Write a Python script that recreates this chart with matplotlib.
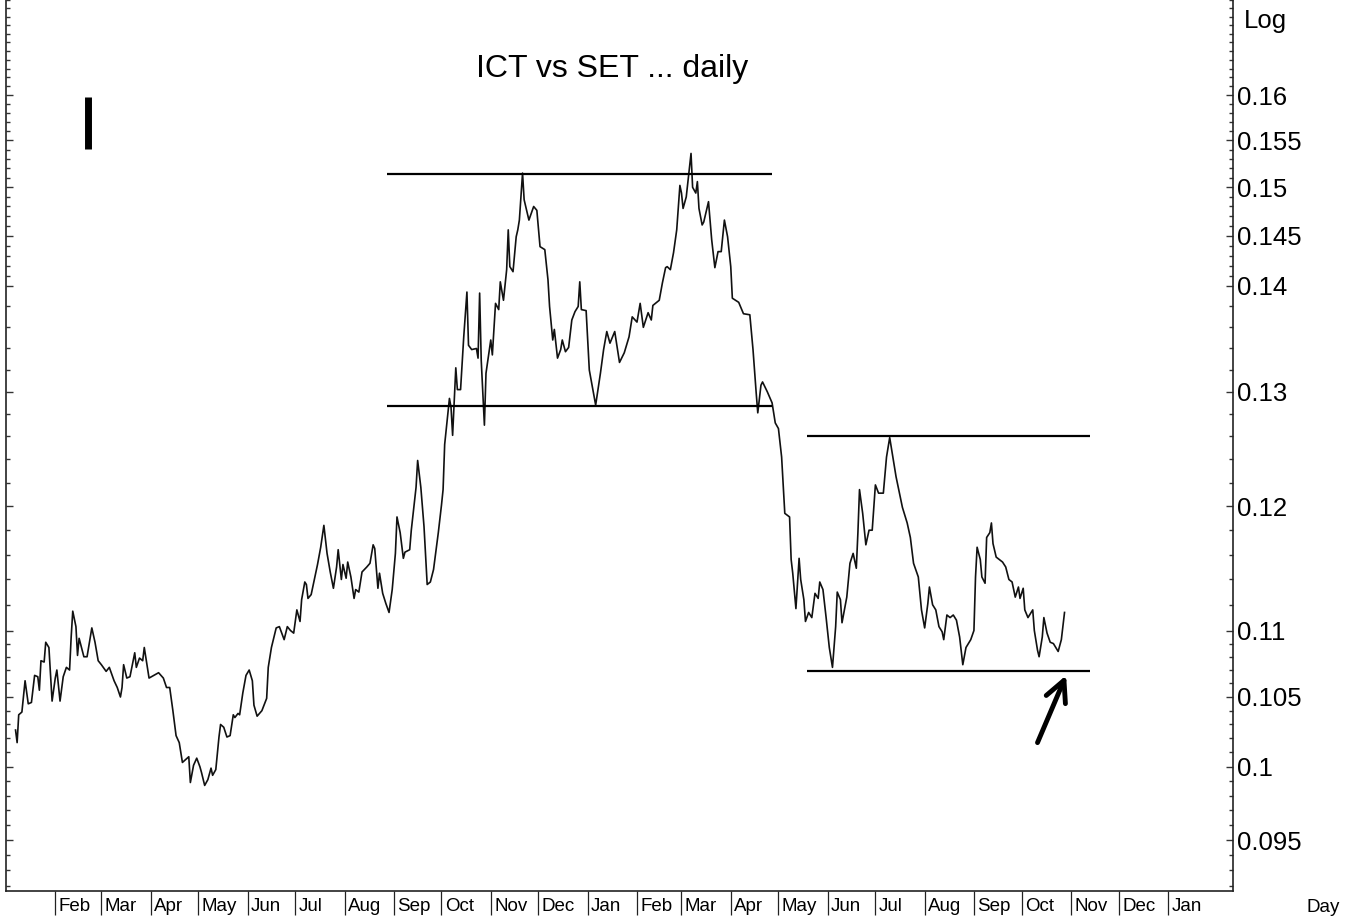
import matplotlib
matplotlib.use("Agg")
import matplotlib.pyplot as plt
import matplotlib.dates as mdates
from matplotlib.ticker import FixedLocator, FixedFormatter, NullFormatter
from matplotlib.transforms import ScaledTranslation
import numpy as np
import pandas as pd

# ---- data ----
title = "ICT vs SET ... daily"

dates = [
    "2012-01-07", "2012-01-08", "2012-01-09", "2012-01-11", "2012-01-13", "2012-01-15", "2012-01-17", "2012-01-19",
    "2012-01-21", "2012-01-22", "2012-01-23", "2012-01-25", "2012-01-26", "2012-01-28", "2012-01-30", "2012-02-01",
    "2012-02-02", "2012-02-04", "2012-02-06", "2012-02-08", "2012-02-10", "2012-02-11", "2012-02-12", "2012-02-14",
    "2012-02-15", "2012-02-16", "2012-02-19", "2012-02-21", "2012-02-24", "2012-02-26", "2012-02-28", "2012-03-01",
    "2012-03-04", "2012-03-06", "2012-03-09", "2012-03-11", "2012-03-13", "2012-03-14", "2012-03-15", "2012-03-17",
    "2012-03-19", "2012-03-22", "2012-03-23", "2012-03-25", "2012-03-27", "2012-03-28", "2012-03-31", "2012-04-03",
    "2012-04-06", "2012-04-09", "2012-04-11", "2012-04-13", "2012-04-15", "2012-04-17", "2012-04-19", "2012-04-21",
    "2012-04-23", "2012-04-25", "2012-04-26", "2012-04-28", "2012-04-30", "2012-05-02", "2012-05-03", "2012-05-05",
    "2012-05-07", "2012-05-09", "2012-05-10", "2012-05-12", "2012-05-14", "2012-05-15", "2012-05-17", "2012-05-19",
    "2012-05-21", "2012-05-23", "2012-05-24", "2012-05-26", "2012-05-27", "2012-05-29", "2012-05-31", "2012-06-02",
    "2012-06-04", "2012-06-05", "2012-06-07", "2012-06-10", "2012-06-13", "2012-06-14", "2012-06-16", "2012-06-19",
    "2012-06-21", "2012-06-24", "2012-06-26", "2012-06-28", "2012-06-30", "2012-07-02", "2012-07-04", "2012-07-05",
    "2012-07-07", "2012-07-08", "2012-07-09", "2012-07-11", "2012-07-15", "2012-07-17", "2012-07-19", "2012-07-21",
    "2012-07-23", "2012-07-25", "2012-07-27", "2012-07-28", "2012-07-30", "2012-07-31", "2012-08-02", "2012-08-03",
    "2012-08-05", "2012-08-07", "2012-08-08", "2012-08-10", "2012-08-12", "2012-08-15", "2012-08-17", "2012-08-19",
    "2012-08-20", "2012-08-22", "2012-08-23", "2012-08-25", "2012-08-27", "2012-08-29", "2012-08-31", "2012-09-02",
    "2012-09-03", "2012-09-05", "2012-09-07", "2012-09-08", "2012-09-11", "2012-09-12", "2012-09-15", "2012-09-16",
    "2012-09-18", "2012-09-20", "2012-09-22", "2012-09-24", "2012-09-26", "2012-09-29", "2012-10-01", "2012-10-02",
    "2012-10-03", "2012-10-06", "2012-10-07", "2012-10-08", "2012-10-10", "2012-10-11", "2012-10-13", "2012-10-15",
    "2012-10-17", "2012-10-18", "2012-10-20", "2012-10-23", "2012-10-24", "2012-10-25", "2012-10-26", "2012-10-28",
    "2012-10-29", "2012-11-01", "2012-11-02", "2012-11-04", "2012-11-06", "2012-11-07", "2012-11-09", "2012-11-11",
    "2012-11-12", "2012-11-13", "2012-11-15", "2012-11-17", "2012-11-18", "2012-11-19", "2012-11-21", "2012-11-22",
    "2012-11-25", "2012-11-28", "2012-11-30", "2012-12-02", "2012-12-05", "2012-12-07", "2012-12-08", "2012-12-10",
    "2012-12-11", "2012-12-13", "2012-12-15", "2012-12-16", "2012-12-18", "2012-12-20", "2012-12-22", "2012-12-24",
    "2012-12-26", "2012-12-27", "2012-12-28", "2012-12-31", "2013-01-02", "2013-01-04", "2013-01-06", "2013-01-09",
    "2013-01-11", "2013-01-13", "2013-01-15", "2013-01-18", "2013-01-21", "2013-01-24", "2013-01-27", "2013-01-29",
    "2013-02-01", "2013-02-03", "2013-02-05", "2013-02-08", "2013-02-10", "2013-02-11", "2013-02-15", "2013-02-17",
    "2013-02-19", "2013-02-20", "2013-02-22", "2013-02-24", "2013-02-26", "2013-02-28", "2013-03-01", "2013-03-02",
    "2013-03-04", "2013-03-05", "2013-03-07", "2013-03-08", "2013-03-10", "2013-03-11", "2013-03-12", "2013-03-14",
    "2013-03-15", "2013-03-18", "2013-03-20", "2013-03-22", "2013-03-24", "2013-03-26", "2013-03-28", "2013-03-30",
    "2013-04-01", "2013-04-02", "2013-04-06", "2013-04-09", "2013-04-13", "2013-04-15", "2013-04-17", "2013-04-18",
    "2013-04-20", "2013-04-21", "2013-04-24", "2013-04-27", "2013-04-29", "2013-05-01", "2013-05-03", "2013-05-05",
    "2013-05-08", "2013-05-09", "2013-05-10", "2013-05-12", "2013-05-14", "2013-05-15", "2013-05-17", "2013-05-18",
    "2013-05-20", "2013-05-22", "2013-05-24", "2013-05-26", "2013-05-27", "2013-05-29", "2013-05-31", "2013-06-02",
    "2013-06-04", "2013-06-06", "2013-06-07", "2013-06-09", "2013-06-10", "2013-06-13", "2013-06-15", "2013-06-17",
    "2013-06-19", "2013-06-20", "2013-06-21", "2013-06-23", "2013-06-25", "2013-06-27", "2013-06-29", "2013-07-01",
    "2013-07-03", "2013-07-06", "2013-07-08", "2013-07-10", "2013-07-12", "2013-07-14", "2013-07-18", "2013-07-21",
    "2013-07-23", "2013-07-25", "2013-07-28", "2013-07-30", "2013-08-01", "2013-08-03", "2013-08-04", "2013-08-06",
    "2013-08-08", "2013-08-10", "2013-08-12", "2013-08-13", "2013-08-15", "2013-08-17", "2013-08-19", "2013-08-21",
    "2013-08-23", "2013-08-25", "2013-08-27", "2013-08-30", "2013-09-01", "2013-09-02", "2013-09-03", "2013-09-05",
    "2013-09-06", "2013-09-08", "2013-09-09", "2013-09-11", "2013-09-12", "2013-09-13", "2013-09-15", "2013-09-19",
    "2013-09-21", "2013-09-23", "2013-09-25", "2013-09-27", "2013-09-29", "2013-09-30", "2013-10-02", "2013-10-03",
    "2013-10-05", "2013-10-08", "2013-10-09", "2013-10-11", "2013-10-12", "2013-10-14", "2013-10-15", "2013-10-17",
    "2013-10-19", "2013-10-21", "2013-10-24", "2013-10-26", "2013-10-28",
]

ratio = [
    0.1026, 0.1017, 0.1037, 0.1039, 0.1062, 0.1045, 0.1046, 0.1066,
    0.1065, 0.1055, 0.1077, 0.1076, 0.1091, 0.1087, 0.1047, 0.1064,
    0.1070, 0.1047, 0.1065, 0.1072, 0.1070, 0.1095, 0.1115, 0.1103,
    0.1081, 0.1094, 0.1080, 0.1080, 0.1102, 0.1091, 0.1077, 0.1074,
    0.1069, 0.1072, 0.1062, 0.1057, 0.1050, 0.1057, 0.1074, 0.1064,
    0.1065, 0.1083, 0.1072, 0.1079, 0.1077, 0.1087, 0.1064, 0.1066,
    0.1068, 0.1064, 0.1057, 0.1057, 0.1040, 0.1022, 0.1017, 0.1003,
    0.1005, 0.1007, 0.0989, 0.1001, 0.1006, 0.1000, 0.0996, 0.0987,
    0.0991, 0.0999, 0.0994, 0.0998, 0.1021, 0.1030, 0.1028, 0.1021,
    0.1022, 0.1037, 0.1035, 0.1038, 0.1037, 0.1053, 0.1066, 0.1070,
    0.1062, 0.1044, 0.1036, 0.1040, 0.1049, 0.1072, 0.1087, 0.1102,
    0.1103, 0.1093, 0.1103, 0.1100, 0.1098, 0.1116, 0.1107, 0.1124,
    0.1138, 0.1136, 0.1125, 0.1128, 0.1152, 0.1166, 0.1184, 0.1161,
    0.1146, 0.1133, 0.1150, 0.1164, 0.1140, 0.1152, 0.1141, 0.1154,
    0.1142, 0.1125, 0.1132, 0.1130, 0.1146, 0.1150, 0.1153, 0.1168,
    0.1165, 0.1133, 0.1145, 0.1129, 0.1121, 0.1114, 0.1132, 0.1161,
    0.1191, 0.1178, 0.1157, 0.1162, 0.1164, 0.1180, 0.1216, 0.1239,
    0.1216, 0.1183, 0.1136, 0.1138, 0.1148, 0.1178, 0.1201, 0.1214,
    0.1253, 0.1294, 0.1286, 0.1261, 0.1322, 0.1302, 0.1302, 0.1351,
    0.1394, 0.1343, 0.1339, 0.1340, 0.1331, 0.1393, 0.1329, 0.1270,
    0.1317, 0.1348, 0.1334, 0.1383, 0.1377, 0.1404, 0.1386, 0.1416,
    0.1456, 0.1419, 0.1414, 0.1449, 0.1456, 0.1466, 0.1515, 0.1487,
    0.1466, 0.1480, 0.1476, 0.1439, 0.1436, 0.1406, 0.1380, 0.1348,
    0.1358, 0.1331, 0.1339, 0.1348, 0.1337, 0.1341, 0.1367, 0.1375,
    0.1380, 0.1404, 0.1377, 0.1376, 0.1320, 0.1304, 0.1288, 0.1317,
    0.1339, 0.1356, 0.1345, 0.1356, 0.1327, 0.1336, 0.1351, 0.1370,
    0.1365, 0.1383, 0.1360, 0.1374, 0.1367, 0.1381, 0.1386, 0.1403,
    0.1418, 0.1419, 0.1416, 0.1433, 0.1456, 0.1502, 0.1494, 0.1478,
    0.1490, 0.1505, 0.1536, 0.1500, 0.1494, 0.1506, 0.1478, 0.1461,
    0.1464, 0.1485, 0.1446, 0.1418, 0.1434, 0.1434, 0.1466, 0.1449,
    0.1419, 0.1388, 0.1384, 0.1373, 0.1372, 0.1339, 0.1299, 0.1281,
    0.1306, 0.1309, 0.1300, 0.1290, 0.1272, 0.1267, 0.1242, 0.1194,
    0.1191, 0.1156, 0.1145, 0.1117, 0.1157, 0.1140, 0.1124, 0.1107,
    0.1114, 0.1110, 0.1129, 0.1125, 0.1138, 0.1132, 0.1110, 0.1087,
    0.1072, 0.1103, 0.1130, 0.1124, 0.1106, 0.1126, 0.1153, 0.1161,
    0.1149, 0.1178, 0.1214, 0.1194, 0.1168, 0.1180, 0.1180, 0.1218,
    0.1211, 0.1211, 0.1242, 0.1259, 0.1242, 0.1225, 0.1199, 0.1186,
    0.1174, 0.1153, 0.1142, 0.1116, 0.1102, 0.1121, 0.1134, 0.1120,
    0.1116, 0.1103, 0.1099, 0.1093, 0.1112, 0.1110, 0.1112, 0.1108,
    0.1095, 0.1074, 0.1087, 0.1093, 0.1100, 0.1142, 0.1166, 0.1156,
    0.1142, 0.1137, 0.1174, 0.1178, 0.1186, 0.1169, 0.1158, 0.1154,
    0.1150, 0.1140, 0.1138, 0.1126, 0.1134, 0.1125, 0.1133, 0.1116,
    0.1110, 0.1116, 0.1100, 0.1085, 0.1080, 0.1095, 0.1110, 0.1098,
    0.1091, 0.1090, 0.1084, 0.1093, 0.1114,
]

y_ticks = [0.095, 0.1, 0.105, 0.11, 0.12, 0.13, 0.14, 0.145, 0.15, 0.155, 0.16]
y_tick_labels = ["0.095", "0.1", "0.105", "0.11", "0.12", "0.13", "0.14", "0.145", "0.15", "0.155", "0.16"]
months = pd.date_range("2012-02-01", "2014-01-01", freq="MS")
month_labels = [m.strftime("%b") for m in months]

# channel lines drawn by hand on the original
upper_levels = [0.1514, 0.1287]
upper_span = ["2012-08-28", "2013-04-27"]
lower_levels = [0.1260, 0.1069]
lower_span = ["2013-05-19", "2013-11-13"]
arrow_from = ("2013-10-11", 0.1017)
arrow_to = ("2013-10-29", 0.1066)

font = ["Liberation Sans", "DejaVu Sans"]

W, H = 1359, 921
fig = plt.figure(figsize=(W / 100, H / 100), dpi=100)
ax = fig.add_axes([6 / W, 30 / H, 1227 / W, 891 / H])

ax.plot(pd.to_datetime(dates), ratio, color="#111111", lw=1.2)

ax.hlines(upper_levels, pd.Timestamp(upper_span[0]), pd.Timestamp(upper_span[1]), color="black", lw=1.6)
ax.hlines(lower_levels, pd.Timestamp(lower_span[0]), pd.Timestamp(lower_span[1]), color="black", lw=1.6)

ax.annotate("", xy=(mdates.date2num(pd.Timestamp(arrow_to[0])), arrow_to[1]),
            xytext=(mdates.date2num(pd.Timestamp(arrow_from[0])), arrow_from[1]),
            arrowprops=dict(arrowstyle="->,head_length=0.5,head_width=0.25", lw=3.5,
                            color="black", mutation_scale=30, shrinkA=0, shrinkB=0))

# log scale, labels on the right
ax.set_yscale("log")
ax.set_ylim(0.09167, 0.17101)
ax.set_xlim(pd.Timestamp("2012-01-01"), pd.Timestamp("2014-02-11"))

minor = np.concatenate([np.arange(0.092, 0.1105, 0.001),
                        np.arange(0.112, 0.1395, 0.002),
                        np.arange(0.141, 0.1715, 0.001)])
ax.yaxis.set_major_locator(FixedLocator(y_ticks))
ax.yaxis.set_major_formatter(FixedFormatter(y_tick_labels))
ax.yaxis.set_minor_locator(FixedLocator(minor))
ax.yaxis.set_minor_formatter(NullFormatter())
ax.yaxis.set_ticks_position("both")
ax.tick_params(axis="y", which="both", direction="in", labelleft=False, labelright=True,
               color="#333333", width=1.0)
ax.tick_params(axis="y", which="major", length=5, pad=3, labelsize=18.5)
ax.tick_params(axis="y", which="minor", length=3)
for lab in ax.get_yticklabels():
    lab.set_family(font)

ax.set_xticks(months)
ax.set_xticklabels(month_labels)
ax.tick_params(axis="x", which="major", direction="out", length=17, width=0.9,
               pad=-12, labelsize=13.5, color="#222222")
ax.tick_params(axis="x", which="minor", length=0)
shift = ScaledTranslation(2.5 / 72, 0, fig.dpi_scale_trans)
for lab in ax.get_xticklabels():
    lab.set_family(font)
    lab.set_horizontalalignment("left")
    lab.set_transform(lab.get_transform() + shift)

for side in ["left", "right", "bottom"]:
    ax.spines[side].set_color("#222222")
    ax.spines[side].set_linewidth(1.2)
ax.spines["top"].set_visible(False)

fig.text(612 / W, 1 - 77 / H, title, ha="center", va="baseline", fontsize=23, family=font)
fig.text(1244 / W, 1 - 21 / H, "Log", ha="left", va="center", fontsize=18.5, family=font)
fig.text(1307 / W, 1 - 907 / H, "Day", ha="left", va="center", fontsize=13.5, family=font)
# the thick bar in the top-left corner
fig.add_artist(plt.Line2D([88 / W, 88 / W], [1 - 97 / H, 1 - 149 / H], color="black", lw=5,
                          transform=fig.transFigure, solid_capstyle="butt"))

fig.savefig("out.png", dpi=100)
